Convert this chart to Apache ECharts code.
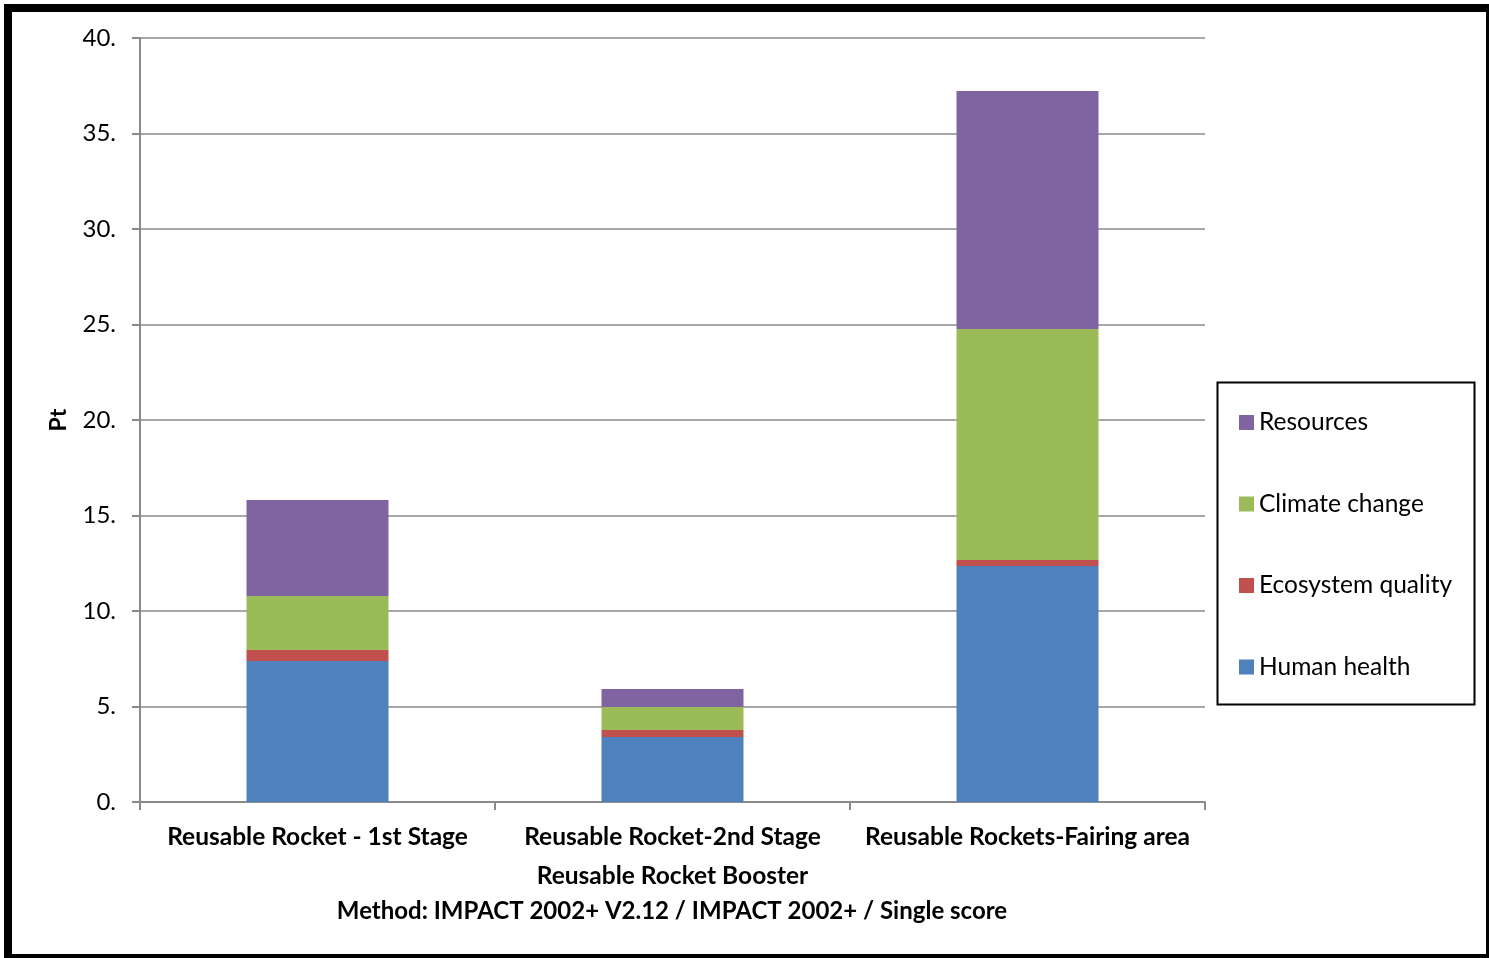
<!DOCTYPE html>
<html>
<head>
<meta charset="utf-8">
<script src="https://cdn.jsdelivr.net/npm/echarts@6/dist/echarts.min.js"></script>
<style>
html,body{margin:0;padding:0;background:#fff;overflow:hidden;}
#chart{position:absolute;left:0;top:0;width:1489px;height:958px;}
#frame{position:absolute;left:4px;top:4px;width:1490px;height:958px;box-sizing:border-box;border:8px solid #000;pointer-events:none;}
</style>
</head>
<body>
<div id="chart"></div>
<div id="frame"></div>
<script>
const categories = ['Reusable Rocket - 1st Stage', 'Reusable Rocket-2nd Stage', 'Reusable Rockets-Fairing area'];
const humanHealth = [7.38, 3.40, 12.36];
const ecosystemQuality = [0.58, 0.37, 0.31];
const climateChange = [2.83, 1.20, 12.09];
const resources = [5.02, 0.95, 12.47];
const seriesNames = ['Human health', 'Ecosystem quality', 'Climate change', 'Resources'];
const legendOrder = ['Resources', 'Climate change', 'Ecosystem quality', 'Human health'];
const colors = ['#4F81BD', '#C0504D', '#9BBB59', '#8064A2'];
const yMin = 0, yMax = 40, yStep = 5;

const chart = echarts.init(document.getElementById('chart'));
const values = [humanHealth, ecosystemQuality, climateChange, resources];
const gridColor = '#8a8a8a';
const font = 'Lato, "Open Sans", sans-serif';

chart.setOption({
  animation: false,
  backgroundColor: '#fff',
  color: colors,
  title: {
    text: 'Method: IMPACT 2002+ V2.12 / IMPACT 2002+ / Single score',
    left: 667, top: 894, textAlign: 'center',
    textStyle: {fontFamily: font, fontWeight: 'bold', fontSize: 24, color: '#000'}
  },
  grid: {left: 140, right: 284, top: 38, bottom: 156},
  legend: {
    data: legendOrder,
    orient: 'vertical',
    left: 1234, top: 405,
    itemWidth: 15, itemHeight: 15, itemGap: 56.5,
    icon: 'rect',
    textStyle: {fontFamily: font, fontSize: 24.5, color: '#000', lineHeight: 22}
  },
  graphic: [{
    type: 'rect', left: 1215, top: 380, shape: {width: 257, height: 322},
    style: {fill: 'none', stroke: '#000', lineWidth: 2}, silent: true
  }],
  xAxis: {
    type: 'category', data: categories,
    name: 'Reusable Rocket Booster', nameLocation: 'middle', nameGap: 62,
    nameTextStyle: {fontFamily: font, fontWeight: 'bold', fontSize: 24.5, color: '#000'},
    axisLine: {lineStyle: {color: gridColor, width: 2}},
    axisTick: {show: true, length: 8, lineStyle: {color: gridColor, width: 2}},
    axisLabel: {fontFamily: font, fontWeight: 'bold', fontSize: 24.5, color: '#000', margin: 23, interval: 0}
  },
  yAxis: {
    type: 'value', min: yMin, max: yMax, interval: yStep,
    name: 'Pt', nameLocation: 'middle', nameGap: 70,
    nameTextStyle: {fontFamily: font, fontWeight: 'bold', fontSize: 23, color: '#000'},
    axisLine: {show: true, lineStyle: {color: gridColor, width: 2}},
    axisTick: {show: true, length: 8, lineStyle: {color: gridColor, width: 2}},
    splitLine: {lineStyle: {color: gridColor, width: 1.5}},
    axisLabel: {fontFamily: font, fontSize: 24, color: '#000', margin: 24,
      formatter: v => v + '.'}
  },
  series: seriesNames.map((n, i) => ({
    name: n, type: 'bar', stack: 'total', barWidth: '40%',
    data: values[i],
    itemStyle: {color: colors[i]}
  }))
});
</script>
</body>
</html>
